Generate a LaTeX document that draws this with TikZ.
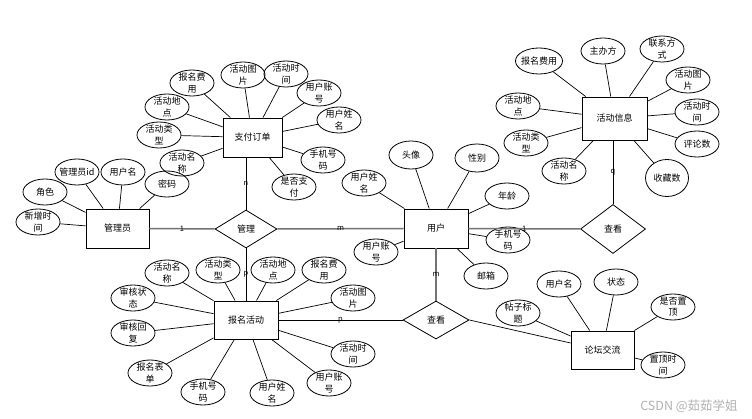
\documentclass[tikz,border=0pt]{standalone}
\usepackage{fontspec}
\setmainfont{Noto Sans CJK SC}
\usetikzlibrary{shapes.geometric}
\begin{document}
\begin{tikzpicture}[x=1pt,y=-1pt,
  attr/.style={ellipse, draw, line width=0.8pt, minimum width=44pt, minimum height=26pt, inner sep=-3pt, align=center, font=\fontsize{9}{11.5}\selectfont},
  ent/.style={rectangle, draw, line width=0.9pt, minimum width=63pt, minimum height=39pt, inner sep=0pt, font=\fontsize{9}{10}\selectfont},
  rel/.style={diamond, draw, line width=0.8pt, inner sep=0pt, font=\fontsize{9}{10}\selectfont},
  con/.style={line width=0.7pt},
  mainline/.style={line width=1.5pt, black!55},
  lab/.style={font=\fontsize{7.5}{8}\selectfont, inner sep=0pt, text=black}
]
\useasboundingbox (0,0) rectangle (752,419);
\fill[white] (0,0) rectangle (752,419);

% entities
\node[ent, minimum width=59pt] (pay) at (252.5,137.5) {支付订单};
\node[ent] (adm) at (117.5,228.5) {管理员};
\node[ent, minimum width=64pt] (usr) at (436,228.5) {用户};
\node[ent, minimum width=65pt, minimum height=43pt] (act) at (614.5,118.5) {活动信息};
\node[ent, minimum width=64pt, minimum height=38pt] (reg) at (246,320) {报名活动};
\node[ent, minimum height=38pt] (frm) at (602.5,350) {论坛交流};

% relationships
\node[rel, minimum width=62pt, minimum height=38pt] (mg) at (246,229) {管理};
\node[rel, minimum width=65pt, minimum height=49pt] (ckR) at (613,229) {查看};
\node[rel, minimum width=66pt, minimum height=38pt] (ckL) at (436,320) {查看};

% pay attributes
\node[attr] (p1) at (192,83) {报名费\\用};
\node[attr] (p2) at (243,75) {活动图\\片};
\node[attr] (p3) at (286,74) {活动时\\间};
\node[attr] (p4) at (319,93) {用户账\\号};
\node[attr] (p5) at (339,120) {用户姓\\名};
\node[attr] (p6) at (323,160) {手机号\\码};
\node[attr] (p7) at (294,187) {是否支\\付};
\node[attr] (p8) at (167,107) {活动地\\点};
\node[attr] (p9) at (159,135) {活动类\\型};
\node[attr] (p10) at (182,163) {活动名\\称};
\foreach \i in {1,...,10} \draw[con] (pay) -- (p\i);

% admin attributes
\node[attr] (d1) at (77,172) {管理员id};
\node[attr] (d2) at (123,172) {用户名};
\node[attr] (d3) at (45,192) {角色};
\node[attr] (d4) at (167,184) {密码};
\node[attr] (d5) at (38,222) {新增时\\间};
\foreach \i in {1,...,5} \draw[con] (adm) -- (d\i);

% user attributes
\node[attr, minimum height=28pt] (u1) at (411,155) {头像};
\node[attr, minimum height=28pt] (u2) at (477,158) {性别};
\node[attr] (u3) at (364,183) {用户姓\\名};
\node[attr] (u4) at (507,196) {年龄};
\node[attr] (u5) at (508,240) {手机号\\码};
\node[attr] (u6) at (376,252) {用户账\\号};
\node[attr] (u7) at (486,276) {邮箱};
\foreach \i in {1,...,7} \draw[con] (usr) -- (u\i);

% activity info attributes
\node[attr, minimum width=47pt] (i1) at (539,61) {报名费用};
\node[attr] (i2) at (603,51) {主办方};
\node[attr] (i3) at (662,49) {联系方\\式};
\node[attr] (i4) at (688,80) {活动图\\片};
\node[attr] (i5) at (697,112) {活动时\\间};
\node[attr] (i6) at (697,144) {评论数};
\node[attr, minimum width=43pt, minimum height=37pt] (i7) at (667,178) {收藏数};
\node[attr] (i8) at (564,171) {活动名\\称};
\node[attr] (i9) at (526,143) {活动类\\型};
\node[attr] (i10) at (518,106) {活动地\\点};
\foreach \i in {1,...,10} \draw[con] (act) -- (i\i);

% registration attributes
\node[attr] (r1) at (167,273) {活动名\\称};
\node[attr] (r2) at (218,270) {活动类\\型};
\node[attr] (r3) at (273,270) {活动地\\点};
\node[attr] (r4) at (324,270) {报名费\\用};
\node[attr] (r5) at (353,298) {活动图\\片};
\node[attr] (r6) at (133,298) {审核状\\态};
\node[attr] (r7) at (133,333) {审核回\\复};
\node[attr] (r8) at (150,373) {报名表\\单};
\node[attr] (r9) at (203,392) {手机号\\码};
\node[attr] (r10) at (272,393) {用户姓\\名};
\node[attr] (r11) at (329,383) {用户账\\号};
\node[attr] (r12) at (353,354) {活动时\\间};
\foreach \i in {1,...,12} \draw[con] (reg) -- (r\i);

% forum attributes
\node[attr] (f1) at (518,313) {帖子标\\题};
\node[attr] (f2) at (559,284) {用户名};
\node[attr] (f3) at (616,282) {状态};
\node[attr] (f4) at (673,307) {是否置\\顶};
\node[attr] (f5) at (663,365) {置顶时\\间};
\foreach \i in {1,...,5} \draw[con] (frm) -- (f\i);

% relationship connectors
\draw[mainline] (adm.east) -- node[lab]{1} (mg.west);
\draw[mainline] (mg.east) -- node[lab]{m} (usr.west);
\draw[mainline] (usr.east) -- node[lab]{1} (ckR.west);
\draw[con] (pay.south -| mg.north) -- node[lab]{n} (mg.north);
\draw[con] (mg.south) -- node[lab]{p} (reg.north -| mg.south);
\draw[con] (act.south -| ckR.north) -- node[lab]{q} (ckR.north);
\draw[mainline, line width=1.1pt] (usr.south) -- node[lab]{m} (ckL.north);
\draw[con] (reg.east) -- node[lab, below=-3pt]{p} (ckL.west);
\draw[con] (ckL.east) -- (frm.west |- 0,343);

% watermark
\node[text=black!30, font=\fontsize{12.5}{13}\selectfont, inner sep=0pt] (wm) at (689,406) {CSDN @茹茹学姐};
\end{tikzpicture}
\end{document}
